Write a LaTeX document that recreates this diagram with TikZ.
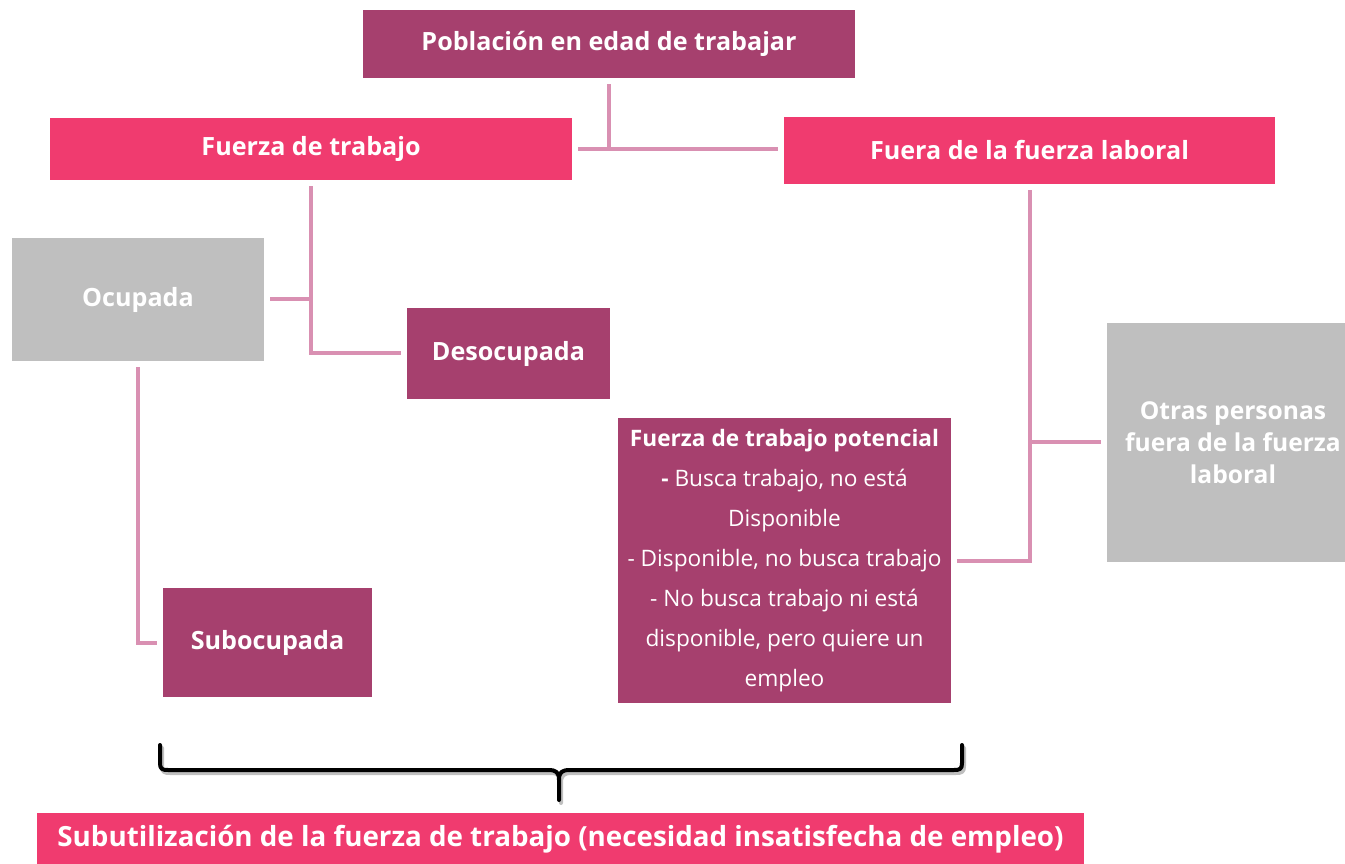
\documentclass[tikz,border=0pt]{standalone}
\usepackage{fontspec}
\setmainfont{Open Sans}
\usetikzlibrary{positioning}
\definecolor{mauve}{RGB}{166,64,110}
\definecolor{rose}{RGB}{240,59,111}
\definecolor{silver}{RGB}{191,191,191}
\definecolor{linkpink}{RGB}{217,144,178}

\begin{document}
\begin{tikzpicture}[x=0.02cm,y=-0.02cm]
   \tikzset{box/.style = {rectangle, inner sep=0pt, align=center, text=white, font=\bfseries\fontsize{14.3}{18}\selectfont}, }
   \tikzset{mauvebox/.style = {box, fill=mauve} }
   \tikzset{rosebox/.style = {box, fill=rose} }
   \tikzset{greybox/.style = {box, fill=silver} }
   \tikzset{link/.style = {draw=linkpink, line width=0.08cm, shorten <=0.12cm, shorten >=0.12cm} }
   \tikzset{brace/.style = {line width=0.08cm, line cap=round, line join=round} }
   \useasboundingbox (0,0) rectangle (1345,864);
   \clip (0,0) rectangle (1345,864);

   \node[mauvebox, minimum width=9.84cm, minimum height=1.36cm] (PET) at (609,44) {Población en edad de trabajar};
   \node[rosebox, minimum width=10.44cm, minimum height=1.24cm] (FT) at (311,149) {Fuerza de trabajo};
   \node[rosebox, minimum width=9.82cm, minimum height=1.34cm] (FFL) at (1029.5,150.5) {Fuera de la fuerza laboral};
   \node[greybox, minimum width=5.04cm, minimum height=2.46cm] (OCU) at (138,299.5) {Ocupada};
   \node[mauvebox, minimum width=4.06cm, minimum height=1.82cm] (DES) at (508.5,353.5) {Desocupada};
   \node[mauvebox, minimum width=4.18cm, minimum height=2.18cm] (SUBO) at (267.5,642.5) {Subocupada};
   \node[mauvebox, minimum width=6.66cm, minimum height=5.70cm, font=\fontsize{12.9}{22.8}\selectfont] (FTP) at (784.5,560.5)
     {\textbf{Fuerza de trabajo potencial}\\ \textbf{-} Busca trabajo, no está\\ Disponible\\ - Disponible, no busca trabajo\\ - No busca trabajo ni está\\ disponible, pero quiere un\\ empleo};
   \node[greybox, minimum width=5.04cm, minimum height=4.78cm, font=\bfseries\fontsize{14}{18.1}\selectfont] (OTR) at (1233,442.5)
     {Otras personas\\ fuera de la fuerza\\ laboral};
   \node[rosebox, minimum width=20.94cm, minimum height=1.04cm, font=\bfseries\fontsize{15.8}{18}\selectfont] (SUT) at (560.5,839)
     {Subutilización de la fuerza de trabajo (necesidad insatisfecha de empleo)};

   % population splits in two
   \draw[link, shorten >=0pt] (PET.south) -- (PET.south |- FT.east);
   \draw[link] (FT.east) -- (FT.east -| FFL.west);
   % labour force
   \draw[link] (FT.south) |- (DES.west);
   \draw[link, shorten >=0pt] (OCU.east) -- (OCU.east -| FT.south);
   \draw[link] (OCU.south) |- (SUBO.west);
   % outside the labour force
   \draw[link] (FFL.south) |- (FTP.east);
   \draw[link, shorten >=0pt] (OTR.west) -- (OTR.west -| FFL.south);

   % brace over the underused groups
   \begin{scope}[shift={(2,3)}]
     \draw[brace, black!25] (160,745) -- (160,763) .. controls (160,769) and (162,770) .. (168,770) -- (548,770) .. controls (556,770) and (559,772) .. (559,780) -- (559,800);
     \draw[brace, black!25] (962,745) -- (962,763) .. controls (962,769) and (960,770) .. (954,770) -- (570,770) .. controls (562,770) and (559,772) .. (559,780);
   \end{scope}
   \draw[brace] (160,745) -- (160,763) .. controls (160,769) and (162,770) .. (168,770) -- (548,770) .. controls (556,770) and (559,772) .. (559,780) -- (559,800);
   \draw[brace] (962,745) -- (962,763) .. controls (962,769) and (960,770) .. (954,770) -- (570,770) .. controls (562,770) and (559,772) .. (559,780);
\end{tikzpicture}
\end{document}
